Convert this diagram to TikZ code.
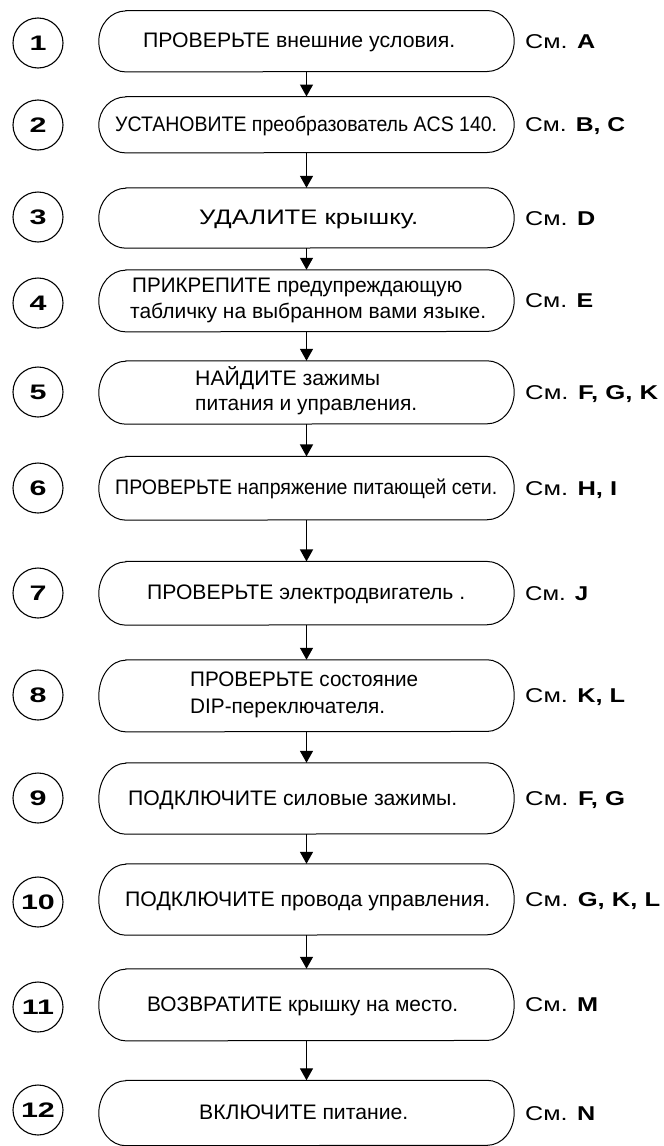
\documentclass[tikz,border=0pt]{standalone}
\usepackage{fontspec}
\setmainfont{Liberation Sans}
\usepackage{graphicx}
\usetikzlibrary{arrows.meta}
\newcommand\fw[2]{\resizebox{#1pt}{\height}{#2}}
\newcommand\widedigit[1]{\scalebox{1.45}[1]{#1}}
\newcommand\stad[3]{%
  \node[geom, minimum height=#3pt] (#1) at (306.5,-#2) {};
  \draw[outline] ([xshift=27pt]#1.north west) -- ([xshift=-27pt]#1.north east)
    arc[start angle=90, end angle=-90, x radius=27pt, y radius=#3/2*1pt]
    -- ([xshift=27pt]#1.south west)
    arc[start angle=270, end angle=90, x radius=27pt, y radius=#3/2*1pt] -- cycle;}
\begin{document}
\begin{tikzpicture}[x=1pt,y=1pt,
  geom/.style={rectangle, draw=none, minimum width=415pt, inner sep=0pt},
  outline/.style={draw=black, line width=1pt},
  num/.style={circle, draw, line width=1.1pt, minimum size=50pt, inner sep=0pt,
    font=\fontsize{21}{21}\selectfont\bfseries},
  txt/.style={anchor=base west, inner sep=0pt, font=\fontsize{21}{26}\selectfont},
  lab/.style={anchor=base west, inner sep=0pt, font=\fontsize{20}{24}\selectfont},
  flow/.style={line width=1.3pt, -{Triangle[width=13pt,length=12pt]}}]
\useasboundingbox (0,0) rectangle (664,-1146);

% boxes
\stad{b1}{41.2}{61}
\stad{b2}{124.7}{56}
\stad{b3}{218}{60}
\stad{b4}{300.8}{61.7}
\stad{b5}{392.5}{63}
\stad{b6}{488.3}{63.3}
\stad{b7}{593.3}{63.3}
\stad{b8}{695.8}{71.7}
\stad{b9}{798.5}{71}
\stad{b10}{899.5}{71}
\stad{b11}{1004.8}{71.7}
\stad{b12}{1113}{65}

% numbers
\node[num] (n1) at (38,-43) {\widedigit{1}};
\node[num] (n2) at (38,-125) {\widedigit{2}};
\node[num] (n3) at (38,-217) {\widedigit{3}};
\node[num] (n4) at (38,-303) {\widedigit{4}};
\node[num] (n5) at (38,-392) {\widedigit{5}};
\node[num] (n6) at (38,-488) {\widedigit{6}};
\node[num] (n7) at (38,-593) {\widedigit{7}};
\node[num] (n8) at (38,-695) {\widedigit{8}};
\node[num] (n9) at (38,-798) {\widedigit{9}};
\node[num] (n10) at (38,-902) {\widedigit{10}};
\node[num] (n11) at (38,-1007) {\widedigit{11}};
\node[num] (n12) at (38,-1110) {\widedigit{12}};

% texts
\node[txt] (t1) at (143,-47.7) {\fw{312}{ПРОВЕРЬТЕ внешние условия.}};
\node[txt] (t2) at (115,-131.2) {\fw{382}{УСТАНОВИТЕ преобразователь ACS 140.}};
\node[txt] (t3) at (199,-224.5) {\fw{219}{УДАЛИТЕ крышку.}};
\node[txt] (t4a) at (132,-292) {\fw{330}{ПРИКРЕПИТЕ предупреждающую}};
\node[txt] (t4b) at (130,-318) {\fw{356}{табличку на выбранном вами языке.}};
\node[txt] (t5a) at (195,-385) {\fw{185}{НАЙДИТЕ зажимы}};
\node[txt] (t5b) at (195,-410.7) {\fw{222}{питания и управления.}};
\node[txt] (t6) at (115,-494.8) {\fw{382}{ПРОВЕРЬТЕ напряжение питающей сети.}};
\node[txt] (t7) at (147,-599.8) {\fw{318}{ПРОВЕРЬТЕ электродвигатель .}};
\node[txt] (t8a) at (190,-686.7) {\fw{228}{ПРОВЕРЬТЕ состояние}};
\node[txt] (t8b) at (190,-713) {\fw{195}{DIP-переключателя.}};
\node[txt] (t9) at (128,-805) {\fw{329}{ПОДКЛЮЧИТЕ силовые зажимы.}};
\node[txt] (t10) at (125,-906) {\fw{365}{ПОДКЛЮЧИТЕ провода управления.}};
\node[txt] (t11) at (147,-1011.3) {\fw{311}{ВОЗВРАТИТЕ крышку на место.}};
\node[txt] (t12) at (199,-1119.5) {\fw{209}{ВКЛЮЧИТЕ питание.}};

% labels
\node[lab] (l1) at (525,-48.2) {\fw{70}{См. \textbf{A}}};
\node[lab] (l2) at (525,-131.7) {\fw{100}{См. \textbf{B, C}}};
\node[lab] (l3) at (525,-225) {\fw{70}{См. \textbf{D}}};
\node[lab] (l4) at (525,-307.8) {\fw{68}{См. \textbf{E}}};
\node[lab] (l5) at (525,-399.5) {\fw{133}{См. \textbf{F, G, K}}};
\node[lab] (l6) at (525,-495.3) {\fw{92}{См. \textbf{H, I}}};
\node[lab] (l7) at (525,-600.3) {\fw{63}{См. \textbf{J}}};
\node[lab] (l8) at (525,-702.8) {\fw{100}{См. \textbf{K, L}}};
\node[lab] (l9) at (525,-805.5) {\fw{100}{См. \textbf{F, G}}};
\node[lab] (l10) at (525,-906.5) {\fw{135}{См. \textbf{G, K, L}}};
\node[lab] (l11) at (525,-1011.8) {\fw{73}{См. \textbf{M}}};
\node[lab] (l12) at (525,-1120) {\fw{70}{См. \textbf{N}}};

% connectors
\draw[flow] (b1) -- (b2);
\draw[flow] (b2) -- (b3);
\draw[flow] (b3) -- (b4);
\draw[flow] (b4) -- (b5);
\draw[flow] (b5) -- (b6);
\draw[flow] (b6) -- (b7);
\draw[flow] (b7) -- (b8);
\draw[flow] (b8) -- (b9);
\draw[flow] (b9) -- (b10);
\draw[flow] (b10) -- (b11);
\draw[flow] (b11) -- (b12);
\end{tikzpicture}
\end{document}
